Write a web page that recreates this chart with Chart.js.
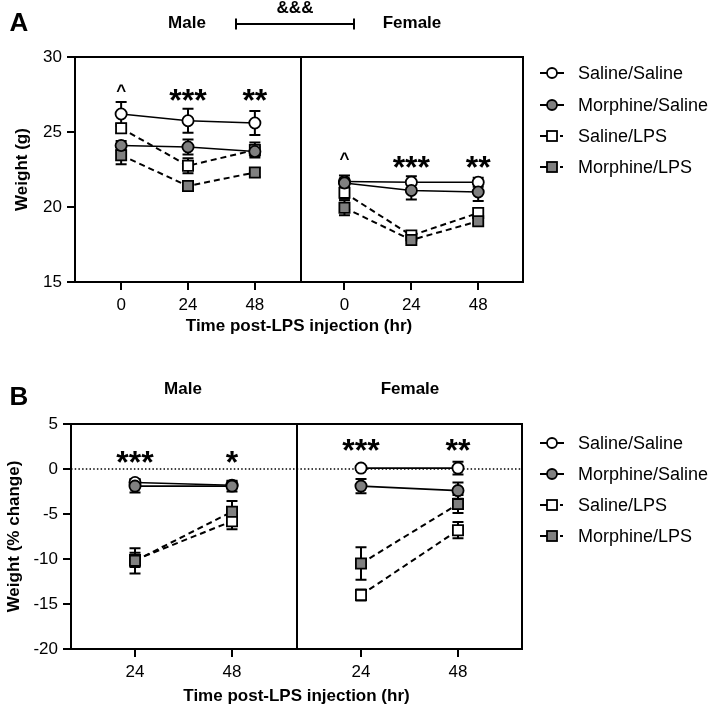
<!DOCTYPE html>
<html>
<head>
<meta charset="utf-8">
<script src="https://cdn.jsdelivr.net/npm/chart.js@4.4.1/dist/chart.umd.min.js"></script>
<style>
  html, body { margin:0; padding:0; background:#fff; }
  body { width:714px; height:709px; position:relative; overflow:hidden;
         font-family:"Liberation Sans", Arial, sans-serif; color:#000; }
  .abs { position:absolute; }
  .c { transform:translate(-50%,-50%); white-space:nowrap; }
  .hdr { font-weight:bold; font-size:17px; }
  .letter { font-weight:bold; font-size:26px; }
  .leg { position:absolute; left:538px; height:20px; display:flex; align-items:center; font-size:18px; white-space:nowrap; }
  .leg svg { margin-right:8px; }
  canvas { position:absolute; left:0; }
</style>
</head>
<body>
<canvas id="cA" width="714" height="345" style="top:0px"></canvas>
<canvas id="cB" width="714" height="339" style="top:370px"></canvas>

<div class="abs c letter" style="left:19px;top:22px">A</div>
<div class="abs c hdr" style="left:187px;top:23px">Male</div>
<div class="abs c hdr" style="left:412px;top:23px">Female</div>
<div class="abs c hdr" style="left:295px;top:8px">&amp;&amp;&amp;</div>
<svg class="abs" style="left:230px;top:14px" width="130" height="20">
  <line x1="6" y1="10" x2="124" y2="10" stroke="#000" stroke-width="2"/>
  <line x1="6" y1="4.5" x2="6" y2="15.5" stroke="#000" stroke-width="2"/>
  <line x1="124" y1="4.5" x2="124" y2="15.5" stroke="#000" stroke-width="2"/>
</svg>

<div class="abs c letter" style="left:19px;top:396px">B</div>
<div class="abs c hdr" style="left:183px;top:389px">Male</div>
<div class="abs c hdr" style="left:410px;top:389px">Female</div>

<div id="legendA"></div>
<div id="legendB"></div>

<script>
// ---------- Data ----------
const seriesNames = ["Saline/Saline", "Morphine/Saline", "Saline/LPS", "Morphine/LPS"];

// Panel A: body weight (g)
const timesA = ["0", "24", "48"];
const A_male_SalSal   = [26.2, 25.75, 25.6];
const A_male_SalSal_e = [0.8, 0.8, 0.8];
const A_male_MorSal   = [24.1, 24.0, 23.7];
const A_male_MorSal_e = [0.3, 0.5, 0.3];
const A_male_SalLPS   = [25.25, 22.75, 23.8];
const A_male_SalLPS_e = [0.3, 0.5, 0.5];
const A_male_MorLPS   = [23.45, 21.4, 22.3];
const A_male_MorLPS_e = [0.6, 0.2, 0.3];

const A_fem_SalSal    = [21.7, 21.65, 21.65];
const A_fem_SalSal_e  = [0.4, 0.4, 0.3];
const A_fem_MorSal    = [21.6, 21.1, 21.0];
const A_fem_MorSal_e  = [0.3, 0.6, 0.6];
const A_fem_SalLPS    = [20.95, 18.1, 19.6];
const A_fem_SalLPS_e  = [0.4, 0.2, 0.3];
const A_fem_MorLPS    = [19.95, 17.8, 19.05];
const A_fem_MorLPS_e  = [0.5, 0.2, 0.2];

const A_yTicks = [15, 20, 25, 30];
const A_male_marks = ["^", "***", "**"];
const A_male_markY = [28.0, 27.6, 27.6];
const A_fem_marks  = ["^", "***", "**"];
const A_fem_markY  = [23.45, 23.15, 23.15];

// Panel B: weight (% change)
const timesB = ["24", "48"];
const B_male_SalSal   = [-1.5, -1.8];
const B_male_SalSal_e = [0.4, 0.4];
const B_male_MorSal   = [-1.9, -1.9];
const B_male_MorSal_e = [0.7, 0.6];
const B_male_SalLPS   = [-10.1, -5.8];
const B_male_SalLPS_e = [0.8, 0.9];
const B_male_MorLPS   = [-10.2, -4.75];
const B_male_MorLPS_e = [1.4, 1.2];

const B_fem_SalSal    = [0.1, 0.1];
const B_fem_SalSal_e  = [0.2, 0.7];
const B_fem_MorSal    = [-1.9, -2.4];
const B_fem_MorSal_e  = [0.8, 0.9];
const B_fem_SalLPS    = [-14.0, -6.8];
const B_fem_SalLPS_e  = [0.6, 0.9];
const B_fem_MorLPS    = [-10.5, -3.9];
const B_fem_MorLPS_e  = [1.8, 1.0];

const B_yTicks = [-20, -15, -10, -5, 0, 5];
const B_male_marks = ["***", "*"];
const B_male_markY = [1.55, 1.55];
const B_fem_marks  = ["***", "**"];
const B_fem_markY  = [2.9, 2.9];

// ---------- Styles ----------
const FONT = "'Liberation Sans', Arial, sans-serif";
Chart.defaults.font.family = FONT;
Chart.defaults.color = "#000";
const GRAY = "#808080";
const styles = {
  "Saline/Saline":   { shape: "circle", fill: "#fff", dash: [] },
  "Morphine/Saline": { shape: "circle", fill: GRAY,  dash: [] },
  "Saline/LPS":      { shape: "rect",   fill: "#fff", dash: [6, 4] },
  "Morphine/LPS":    { shape: "rect",   fill: GRAY,  dash: [6, 4] }
};
// draw order: first = on top
const drawOrder = ["Morphine/Saline", "Morphine/LPS", "Saline/Saline", "Saline/LPS"];

function makeDataset(name, xs, ys, errs) {
  const st = styles[name];
  return {
    label: name,
    data: xs.map((x, i) => ({ x: x, y: ys[i] })),
    errors: errs,
    borderColor: "#000",
    borderWidth: st.dash.length ? 2 : 1.6,
    borderDash: st.dash,
    pointStyle: st.shape,
    pointRadius: st.shape === "rect" ? 7.2 : 5.6,
    pointHoverRadius: st.shape === "rect" ? 7.2 : 5.6,
    pointBackgroundColor: st.fill,
    pointBorderColor: "#000",
    pointBorderWidth: 1.8,
    tension: 0,
    fill: false
  };
}

// ---------- Plugins ----------
const frameAndErrors = {
  id: "frameAndErrors",
  beforeDatasetsDraw(chart, args, opts) {
    const { ctx, chartArea: a, scales: { x, y } } = chart;
    ctx.save();
    // dotted reference line
    if (opts.zeroLine) {
      const py = y.getPixelForValue(0);
      ctx.strokeStyle = "#000"; ctx.lineWidth = 1.5; ctx.setLineDash([1.5, 2.2]);
      ctx.beginPath(); ctx.moveTo(a.left, py); ctx.lineTo(a.right, py); ctx.stroke();
      ctx.setLineDash([]);
    }
    // error bars
    ctx.strokeStyle = "#000"; ctx.lineWidth = 2;
    chart.data.datasets.forEach((ds, di) => {
      const meta = chart.getDatasetMeta(di);
      ds.data.forEach((p, i) => {
        const e = ds.errors[i];
        const px = x.getPixelForValue(p.x);
        const y1 = y.getPixelForValue(p.y + e), y2 = y.getPixelForValue(p.y - e);
        ctx.beginPath();
        ctx.moveTo(px, y1); ctx.lineTo(px, y2);
        ctx.moveTo(px - 5.5, y1); ctx.lineTo(px + 5.5, y1);
        ctx.moveTo(px - 5.5, y2); ctx.lineTo(px + 5.5, y2);
        ctx.stroke();
      });
    });
    ctx.restore();
  },
  afterDraw(chart, args, opts) {
    const { ctx, chartArea: a, scales: { x, y } } = chart;
    ctx.save();
    ctx.strokeStyle = "#000"; ctx.lineWidth = 2;
    ctx.strokeRect(a.left, a.top, a.right - a.left, a.bottom - a.top);
    const dx = x.getPixelForValue(opts.divider);
    ctx.beginPath(); ctx.moveTo(dx, a.top); ctx.lineTo(dx, a.bottom + 1); ctx.stroke();
    // significance marks
    ctx.fillStyle = "#000"; ctx.textAlign = "center"; ctx.textBaseline = "alphabetic";
    opts.marks.forEach(m => {
      const isStar = m.text.indexOf("*") >= 0;
      const size = isStar ? 32 : 17;
      ctx.font = "bold " + size + "px " + FONT;
      const off = isStar ? 0.57 * size : 0.52 * size;
      ctx.fillText(m.text, x.getPixelForValue(m.x), y.getPixelForValue(m.y) + off);
    });
    ctx.restore();
  }
};

function buildChart(canvasId, cfg) {
  const datasets = [];
  drawOrder.forEach(name => {
    cfg.groups.forEach(g => {
      const xs = g.values[name].map((_, i) => g.offset + i);
      datasets.push(makeDataset(name, xs, g.values[name], g.errors[name]));
    });
  });
  const tickPos = [], tickLab = [], marks = [];
  cfg.groups.forEach(g => {
    g.labels.forEach((l, i) => { tickPos.push(g.offset + i); tickLab.push(l); });
    g.marks.forEach((t, i) => marks.push({ text: t, x: g.offset + i, y: g.markY[i] }));
  });
  return new Chart(document.getElementById(canvasId), {
    type: "line",
    data: { datasets },
    plugins: [frameAndErrors],
    options: {
      responsive: false, animation: false, devicePixelRatio: 1,
      layout: { padding: cfg.padding },
      events: [],
      plugins: {
        legend: { display: false }, tooltip: { enabled: false },
        frameAndErrors: { divider: cfg.divider, marks, zeroLine: cfg.zeroLine }
      },
      scales: {
        x: {
          type: "linear", min: cfg.xMin, max: cfg.xMax,
          afterBuildTicks: s => { s.ticks = tickPos.map(v => ({ value: v })); },
          afterFit: s => { s.height = cfg.xHeight; },
          ticks: { callback: (v, i) => tickLab[i], autoSkip: false, maxRotation: 0,
                   font: { size: 17 }, color: "#000", padding: 5 },
          grid: { display: true, drawOnChartArea: false, drawTicks: true, tickLength: 8,
                  color: "#000", lineWidth: 2 },
          border: { display: true, color: "#000", width: 2 },
          title: { display: true, text: "Time post-LPS injection (hr)",
                   font: { size: 17, weight: "bold" }, color: "#000",
                   padding: { top: 0, bottom: cfg.xTitlePad } }
        },
        y: {
          type: "linear", min: cfg.yMin, max: cfg.yMax,
          afterBuildTicks: s => { s.ticks = cfg.yTicks.map(v => ({ value: v })); },
          afterFit: s => { s.width = cfg.yWidth; },
          ticks: { font: { size: 17 }, color: "#000", padding: 5 },
          grid: { display: true, drawOnChartArea: false, drawTicks: true, tickLength: 8,
                  color: "#000", lineWidth: 2 },
          border: { display: true, color: "#000", width: 2 },
          title: { display: true, text: cfg.yTitle,
                   font: { size: 17, weight: "bold" }, color: "#000",
                   padding: { top: cfg.yTitlePad, bottom: 0 } }
        }
      }
    }
  });
}

buildChart("cA", {
  padding: { left: 0, top: 57, right: 191, bottom: 0 },
  xMin: -0.69, xMax: 6.01, divider: 2.69,
  yMin: 15, yMax: 30, yTicks: A_yTicks, yWidth: 75, xHeight: 63,
  xTitlePad: 8, yTitlePad: 12, yTitle: "Weight (g)", zeroLine: false,
  groups: [
    { offset: 0, labels: timesA, marks: A_male_marks, markY: A_male_markY,
      values: { "Saline/Saline": A_male_SalSal, "Morphine/Saline": A_male_MorSal,
                "Saline/LPS": A_male_SalLPS, "Morphine/LPS": A_male_MorLPS },
      errors: { "Saline/Saline": A_male_SalSal_e, "Morphine/Saline": A_male_MorSal_e,
                "Saline/LPS": A_male_SalLPS_e, "Morphine/LPS": A_male_MorLPS_e } },
    { offset: 3.34, labels: timesA, marks: A_fem_marks, markY: A_fem_markY,
      values: { "Saline/Saline": A_fem_SalSal, "Morphine/Saline": A_fem_MorSal,
                "Saline/LPS": A_fem_SalLPS, "Morphine/LPS": A_fem_MorLPS },
      errors: { "Saline/Saline": A_fem_SalSal_e, "Morphine/Saline": A_fem_MorSal_e,
                "Saline/LPS": A_fem_SalLPS_e, "Morphine/LPS": A_fem_MorLPS_e } }
  ]
});

buildChart("cB", {
  padding: { left: 0, top: 54, right: 192, bottom: 0 },
  xMin: -0.66, xMax: 3.99, divider: 1.67,
  yMin: -20, yMax: 5, yTicks: B_yTicks, yWidth: 71, xHeight: 60,
  xTitlePad: 2, yTitlePad: 4, yTitle: "Weight (% change)", zeroLine: true,
  groups: [
    { offset: 0, labels: timesB, marks: B_male_marks, markY: B_male_markY,
      values: { "Saline/Saline": B_male_SalSal, "Morphine/Saline": B_male_MorSal,
                "Saline/LPS": B_male_SalLPS, "Morphine/LPS": B_male_MorLPS },
      errors: { "Saline/Saline": B_male_SalSal_e, "Morphine/Saline": B_male_MorSal_e,
                "Saline/LPS": B_male_SalLPS_e, "Morphine/LPS": B_male_MorLPS_e } },
    { offset: 2.33, labels: timesB, marks: B_fem_marks, markY: B_fem_markY,
      values: { "Saline/Saline": B_fem_SalSal, "Morphine/Saline": B_fem_MorSal,
                "Saline/LPS": B_fem_SalLPS, "Morphine/LPS": B_fem_MorLPS },
      errors: { "Saline/Saline": B_fem_SalSal_e, "Morphine/Saline": B_fem_MorSal_e,
                "Saline/LPS": B_fem_SalLPS_e, "Morphine/LPS": B_fem_MorLPS_e } }
  ]
});

// ---------- Legends ----------
function legendSVG(name) {
  const st = styles[name];
  let s = '<svg width="32" height="16" viewBox="0 0 32 16">';
  s += '<line x1="2" y1="8" x2="9" y2="8" stroke="#000" stroke-width="2"/>';
  if (st.dash.length) s += '<line x1="22" y1="8" x2="25" y2="8" stroke="#000" stroke-width="2"/>';
  else s += '<line x1="19" y1="8" x2="26" y2="8" stroke="#000" stroke-width="2"/>';
  if (st.shape === "circle") s += '<circle cx="14" cy="8" r="5" fill="' + st.fill + '" stroke="#000" stroke-width="1.8"/>';
  else s += '<rect x="9" y="3" width="10" height="10" fill="' + st.fill + '" stroke="#000" stroke-width="1.8"/>';
  return s + '</svg>';
}
function buildLegend(id, ys) {
  const el = document.getElementById(id);
  seriesNames.forEach((n, i) => {
    const d = document.createElement("div");
    d.className = "leg";
    d.style.top = (ys[i] - 10) + "px";
    d.innerHTML = legendSVG(n) + '<span>' + n + '</span>';
    el.appendChild(d);
  });
}
buildLegend("legendA", [73, 105, 136, 167]);
buildLegend("legendB", [443, 474, 505, 536]);
</script>
</body>
</html>
